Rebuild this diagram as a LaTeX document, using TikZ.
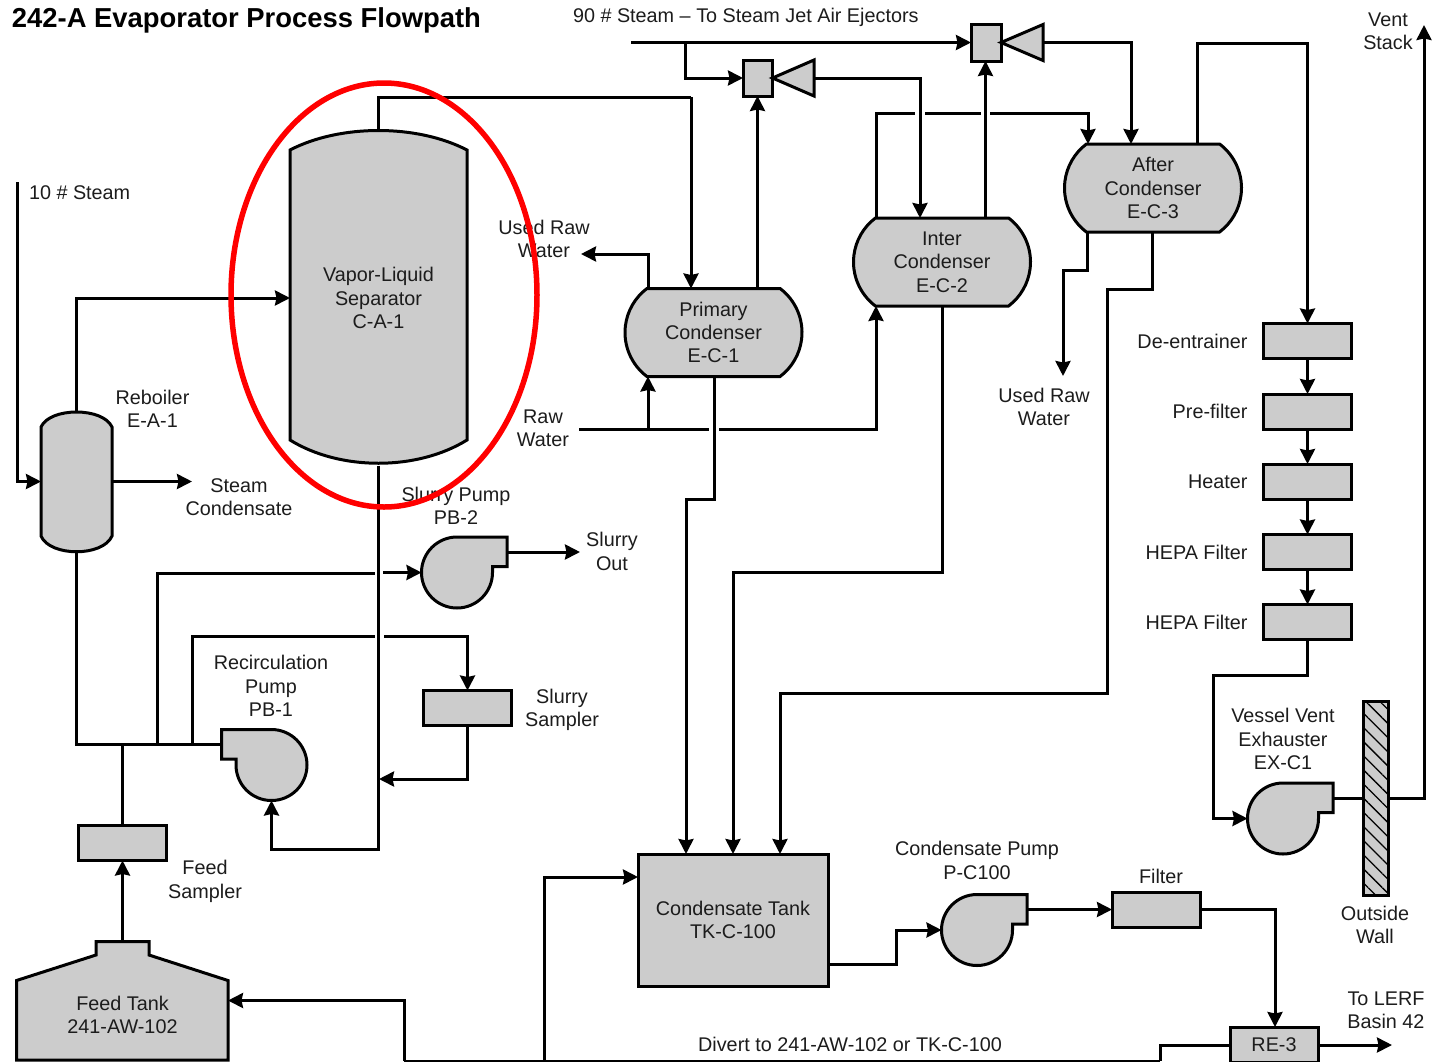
\documentclass[tikz,border=0pt]{standalone}
\usepackage{fontspec}
\setmainfont{Liberation Sans}
\usetikzlibrary{arrows.meta,positioning,shapes.misc,patterns.meta}
\definecolor{eqgray}{RGB}{204,204,204}
\definecolor{inkdark}{RGB}{28,28,28}
\begin{document}
\begin{tikzpicture}[x=1pt, y=-1pt, >={Stealth[length=15pt,width=15pt,inset=1.5pt]},
    every node/.style={font=\fontsize{19.8}{23.4}\selectfont, text=inkdark, inner sep=0pt, outer sep=0pt, align=center},
    pipe/.style={draw=black, line width=3pt},
    equip/.style={draw=black, line width=3pt, fill=eqgray},
    tag/.style={},
    holder/.style={minimum width=177pt, minimum height=88pt},
    drum/.style={equip, rounded rectangle, rounded rectangle arc length=106, holder},
    unit/.style={equip, minimum width=88pt, minimum height=35pt},
    pump/.pic={
      \draw[equip] (0,-35.5) -- (50,-35.5) -- (50,-6) -- (35.5,-6) -- (35.5,0)
        arc[start angle=0, end angle=-270, radius=35.5pt] -- cycle;
      \coordinate (-in) at (-35.5,0);
      \coordinate (-out) at (50,-20.5);
      \coordinate (-foot) at (0,35.5);
    }]
  \useasboundingbox (0,0) rectangle (1433,1061);

  \node[anchor=west, font=\bfseries\fontsize{27.4}{30}\selectfont, text=black] (title) at (12,20) {242-A Evaporator Process Flowpath};
  \node[anchor=west] (steamten) at (29,193) {10 \# Steam};
  \node[anchor=west] (steamninety) at (573,17) {90 \# Steam -- To Steam Jet Air Ejectors};

  \draw[equip] (290,150) .. controls (340,124) and (417,124) .. (467,150) -- (467,440)
    .. controls (417,471) and (340,471) .. (290,440) -- cycle;
  \node[minimum width=177pt, minimum height=335pt] (sep) at (378.5,298) {Vapor-Liquid\\Separator\\C-A-1};
  \draw[equip] (41,427) .. controls (50,407) and (103,407) .. (112,427) -- (112,536)
    .. controls (103,557) and (50,557) .. (41,536) -- cycle;
  \node[minimum width=71pt, minimum height=141pt] (reb) at (76.5,481.5) {};
  \node[tag] (reblabel) at (152.5,409) {Reboiler\\E-A-1};
  \node[tag] (steamcond) at (239,497) {Steam\\Condensate};

  \node[drum] (pricond) at (713.5,332.5) {Primary\\Condenser\\E-C-1};
  \node[drum] (intcond) at (942,262) {Inter\\Condenser\\E-C-2};
  \node[drum] (aftcond) at (1153,188) {After\\Condenser\\E-C-3};

  \node[equip, minimum width=29pt, minimum height=36pt] (jetone) at (757.5,78) {};
  \draw[equip] (772.5,78) -- (814,60) -- (814,96) -- cycle;
  \coordinate (jetonetail) at (814,78);
  \node[equip, minimum width=30pt, minimum height=37pt] (jettwo) at (986,42.5) {};
  \draw[equip] (1001,42.5) -- (1043,24.5) -- (1043,60.5) -- cycle;
  \coordinate (jettwotail) at (1043,42.5);

  \node[unit] (deent) at (1307.5,341) {};
  \node[unit] (prefilt) at (1307.5,411.5) {};
  \node[unit] (heater) at (1307.5,481.5) {};
  \node[unit] (hepaone) at (1307.5,552) {};
  \node[unit] (hepatwo) at (1307.5,622) {};
  \node[tag, left=16pt of deent] (deentlabel) {De-entrainer};
  \node[tag, left=16pt of prefilt] (prefiltlabel) {Pre-filter};
  \node[tag, left=16pt of heater] (heaterlabel) {Heater};
  \node[tag, left=16pt of hepaone] (hepaonelabel) {HEPA Filter};
  \node[tag, left=16pt of hepatwo] (hepatwolabel) {HEPA Filter};

  \pic (pbtwo) at (457,572.5) {pump};
  \pic[xscale=-1] (pbone) at (271.5,765) {pump};
  \pic (exh) at (1283,818.5) {pump};
  \pic (pcpump) at (977,930) {pump};

  \node[unit] (slursamp) at (467.5,708) {};
  \node[unit] (feedsamp) at (122.5,843) {};
  \node[unit] (filt) at (1156,909.5) {};
  \node[unit] (rethree) at (1274,1045) {RE-3};
  \node[equip, minimum width=190pt, minimum height=132pt] (tank) at (733,920) {Condensate Tank\\TK-C-100};
  \node[draw=black, line width=3pt, fill=eqgray, minimum width=25pt, minimum height=194pt,
    postaction={pattern={Lines[angle=-45,distance=10pt,line width=1.3pt]}}] (wall) at (1375.5,798) {};

  \draw[equip] (16.5,980.5) -- (96,955) -- (96,941.5) -- (149,941.5) -- (149,955) -- (228,980.5) -- (228,1060) -- (16.5,1060) -- cycle;
  \node[minimum width=211pt, minimum height=80pt] (feedtank) at (122.5,1015) {Feed Tank\\241-AW-102};
  \coordinate (feedneck) at (122.5,941.5);
  \coordinate (feedin) at (228,1000.5);

  \node[tag] (usedrawa) at (544,239) {Used Raw\\Water};
  \node[tag] (rawwater) at (543,428) {Raw\\Water};
  \node[tag] (usedrawb) at (1044,407) {Used Raw\\Water};
  \node[tag] (ventstack) at (1388,31) {Vent\\Stack};
  \node[tag] (pbtwolabel) at (456,506) {Slurry Pump\\PB-2};
  \node[tag] (slurryout) at (612,551.5) {Slurry\\Out};
  \node[tag] (pbonelabel) at (271,686) {Recirculation\\Pump\\PB-1};
  \node[tag] (slursamplabel) at (562,710) {Slurry\\Sampler};
  \node[tag] (feedsamplabel) at (205,881.5) {Feed\\Sampler};
  \node[tag] (pclabel) at (977,860.5) {Condensate Pump\\P-C100};
  \node[tag] (filtlabel) at (1161,876) {Filter};
  \node[tag] (exhlabel) at (1283,739) {Vessel Vent\\Exhauster\\EX-C1};
  \node[tag] (walllabel) at (1375,925) {Outside\\Wall};
  \node[tag] (lerf) at (1386,1010) {To LERF\\Basin 42};
  \node[tag] (divert) at (850,1044) {Divert to 241-AW-102 or TK-C-100};

  \coordinate (steamtenend) at (17,182);
  \coordinate (steamnineend) at (631,42.5);
  \coordinate (rawend) at (579,429);
  \coordinate (lerfend) at (1392,1045);
  \coordinate (ventend) at (1424,25);
  \coordinate (bottomend) at (1160,1061);

  \draw[pipe,->] (steamtenend) -- (17,481.5) -- (reb.west);
  \draw[pipe,->] (reb.east) -- (192,481.5);
  \draw[pipe,->] (reb.north) -- (76.5,298) -- (sep.west);
  \draw[pipe] (reb.south) -- (76.5,744) -- (222,744);
  \draw[pipe] (157,744) -- (157,573) -- (375,573);
  \draw[pipe,->] (383,572.5) -- (pbtwo-in);
  \draw[pipe] (192,744) -- (192,636) -- (375,636);
  \draw[pipe,->] (384,636) -- (467.5,636) -- (slursamp.north);
  \draw[pipe] (sep.north) -- (378.5,97) -- (691,97);
  \draw[pipe,->] (691,97) -- (691,288.5);
  \draw[pipe,->] (sep.south) -- (378.5,849) -- (271.5,849) -- (pbone-foot);
  \draw[pipe,->] (slursamp.south) -- (467.5,779) -- (379,779);
  \draw[pipe,->] (pbtwo-out) -- (580,552);
  \draw[pipe,->] (feedneck) -- (feedsamp.south);
  \draw[pipe] (feedsamp.north) -- (122.5,744);

  \draw[pipe,->] (757.5,288.5) -- (jetone.south);
  \draw[pipe,->] (steamnineend) -- (jettwo.west);
  \draw[pipe,->] (685,42.5) -- (685,78) -- (jetone.west);
  \draw[pipe,->] (jetonetail) -- (920,78) -- (920,218);
  \draw[pipe,->] (985.5,218) -- (985.5,61);
  \draw[pipe,->] (jettwotail) -- (1131,42.5) -- (1131,144);
  \draw[pipe] (876,218) -- (876,113) -- (915,113);
  \draw[pipe] (925,113) -- (981,113);
  \draw[pipe,->] (990,113) -- (1088,113) -- (1088,144);

  \draw[pipe] (rawend) -- (709,429);
  \draw[pipe,->] (719,429) -- (876,429) -- (876,306);
  \draw[pipe,->] (648,429) -- (648,376.5);
  \draw[pipe,->] (648,288.5) -- (648,254) -- (581,254);
  \draw[pipe,->] (1087,232) -- (1087,270) -- (1063,270) -- (1063,376);
  \draw[pipe,->] (1197,144) -- (1197,43) -- (1307.5,43) -- (deent.north);
  \draw[pipe,->] (deent.south) -- (prefilt.north);
  \draw[pipe,->] (prefilt.south) -- (heater.north);
  \draw[pipe,->] (heater.south) -- (hepaone.north);
  \draw[pipe,->] (hepaone.south) -- (hepatwo.north);
  \draw[pipe,->] (hepatwo.south) -- (1307.5,675) -- (1213,675) -- (1213,818.5) -- (exh-in);
  \draw[pipe] (exh-out) -- (1363,798);
  \draw[pipe,->] (1388,798) -- (1424,798) -- (ventend);

  \draw[pipe,->] (714,377) -- (714,499) -- (686,499) -- (686,854);
  \draw[pipe,->] (942,306) -- (942,572) -- (733,572) -- (733,854);
  \draw[pipe,->] (1152,232) -- (1152,289) -- (1107,289) -- (1107,693) -- (780,693) -- (780,854);
  \draw[pipe,->] (828,964) -- (896,964) -- (896,930) -- (pcpump-in);
  \draw[pipe,->] (pcpump-out) -- (filt.west);
  \draw[pipe,->] (filt.east) -- (1275,909.5) -- (1275,1027);
  \draw[pipe,->] (rethree.east) -- (lerfend);
  \draw[pipe] (rethree.west) -- (1160,1045) -- (bottomend);
  \draw[pipe] (bottomend) -- (404,1061);
  \draw[pipe,->] (404,1061) -- (404,1000.5) -- (feedin);
  \draw[pipe,->] (544,1061) -- (544,877) -- (638,877);

  \draw[red, line width=5.5pt] (384,295) ellipse [x radius=153pt, y radius=212pt];
\end{tikzpicture}
\end{document}
